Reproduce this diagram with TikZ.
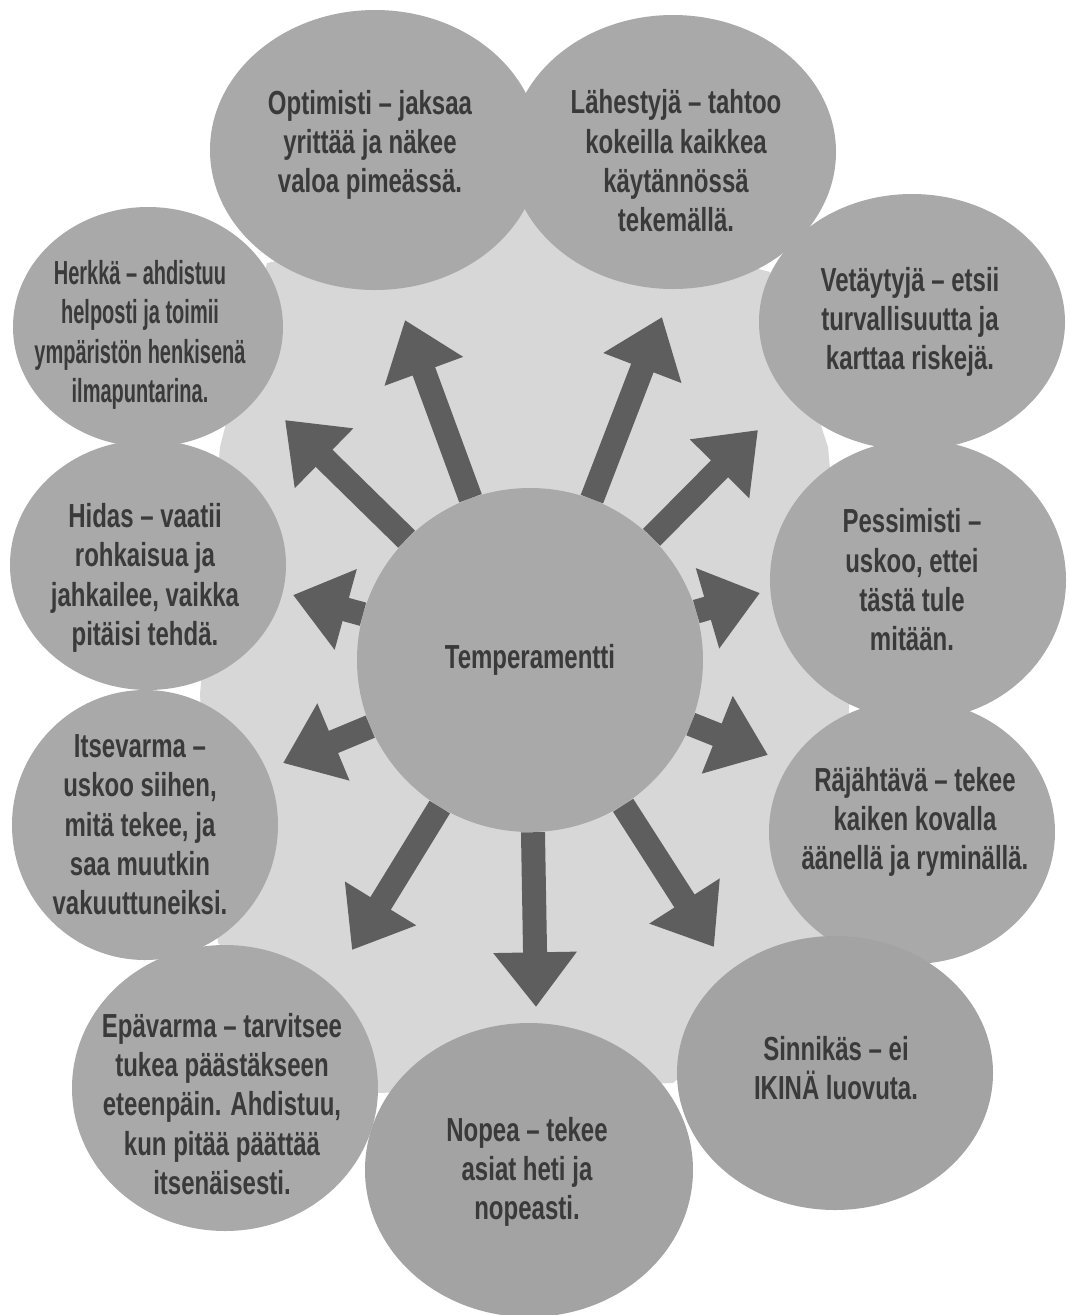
\documentclass[tikz,border=0pt]{standalone}
\usepackage{fontspec}
\setmainfont{Liberation Sans}[FakeStretch=0.72]
\newfontfamily\narrowfam{Liberation Sans}[FakeStretch=0.6]
\usetikzlibrary{shapes.geometric,arrows.meta}
\definecolor{blobc}{HTML}{A9A9A9}
\definecolor{blobd}{HTML}{A3A3A3}
\definecolor{lightc}{HTML}{D7D7D7}
\definecolor{arrowc}{HTML}{5E5E5E}
\definecolor{textc}{HTML}{3A3A3A}
\begin{document}
\begin{tikzpicture}[x=0.75pt,y=-0.75pt,
  blob/.style 2 args={ellipse, fill=blobc, draw=none, inner sep=0pt, minimum width=#1, minimum height=#2},
  txt/.style={text=textc, font=\bfseries\fontsize{25}{29.5}\selectfont, align=center, inner sep=0pt},
  ray/.style={draw=arrowc, line width=18pt, -{Triangle[length=41pt,width=60pt]}}
]
\fill[white] (0,0) rectangle (1070,1315);
\useasboundingbox (0,0) rectangle (1070,1315);
% light star-shaped region
\fill[lightc] (525,207) -- (770,272) -- (828,447) -- (850,688) -- (838,933) -- (673,1083)
  -- (377,1093) -- (218,943) -- (200,695) -- (220,447) -- (267,263) -- cycle;
% outer blobs
\node[blob={247.5pt}{210pt}] (bO) at (375,150) {};
\node[blob={244.5pt}{205.5pt}] (bL) at (673,152) {};
\node[blob={202.5pt}{180pt}] (bH) at (148,327) {};
\node[blob={229.5pt}{192pt}] (bV) at (912,322) {};
\node[blob={207pt}{187.5pt}] (bHi) at (148,565) {};
\node[blob={222pt}{210pt}] (bP) at (918,580) {};
\node[blob={199.5pt}{202.5pt}] (bI) at (145,825) {};
\node[blob={214.5pt}{198pt}] (bR) at (912,832) {};
\node[blob={229.5pt}{214.5pt}] (bE) at (225,1088) {};
\node[blob={237pt}{205.5pt}, fill=blobd] (bS) at (835,1073) {};
\node[blob={246pt}{220.5pt}, fill=blobd] (bN) at (529,1170) {};
% centre
\node[blob={259.5pt}{258pt}] (C) at (530,660) {};
% arrow tips
\coordinate (t1) at (405,320);
\coordinate (t2) at (662,317);
\coordinate (t3) at (285,420);
\coordinate (t4) at (758,430);
\coordinate (t5) at (293,595);
\coordinate (t6) at (760,593);
\coordinate (t7) at (283,763);
\coordinate (t8) at (768,755);
\coordinate (t9) at (352,950);
\coordinate (t10) at (536,1007);
\coordinate (t11) at (714,947);
\foreach \t in {t1,t2,t3,t4,t5,t6,t7,t8,t9,t10,t11}
  \draw[ray] (C) -- (\t);
% texts
\node[txt] (xC) at (C) {Temperamentti};
\node[txt] (xO) at (370,145) {Optimisti – jaksaa\\yrittää ja näkee\\valoa pimeässä.};
\node[txt] (xL) at (676,161) {Lähestyjä – tahtoo\\kokeilla kaikkea\\käytännössä\\tekemällä.};
\node[txt, font=\narrowfam\bfseries\fontsize{25}{29.5}\selectfont] (xH) at (140,335) {Herkkä – ahdistuu\\helposti ja toimii\\ympäristön henkisenä\\ilmapuntarina.};
\node[txt] (xV) at (910,322) {Vetäytyjä – etsii\\turvallisuutta ja\\karttaa riskejä.};
\node[txt] (xHi) at (145,578) {Hidas – vaatii\\rohkaisua ja\\jahkailee, vaikka\\pitäisi tehdä.};
\node[txt] (xP) at (912,580) {Pessimisti –\\uskoo, ettei\\tästä tule\\mitään.};
\node[txt] (xI) at (140,825) {Itsevarma –\\uskoo siihen,\\mitä tekee, ja\\saa muutkin\\vakuuttuneiksi.};
\node[txt] (xR) at (915,822) {Räjähtävä – tekee\\kaiken kovalla\\äänellä ja ryminällä.};
\node[txt] (xE) at (222,1104) {Epävarma – tarvitsee\\tukea päästäkseen\\eteenpäin. Ahdistuu,\\kun pitää päättää\\itsenäisesti.};
\node[txt] (xN) at (527,1172) {Nopea – tekee\\asiat heti ja\\nopeasti.};
\node[txt] (xS) at (836,1068) {Sinnikäs – ei\\IKINÄ luovuta.};
\end{tikzpicture}
\end{document}
